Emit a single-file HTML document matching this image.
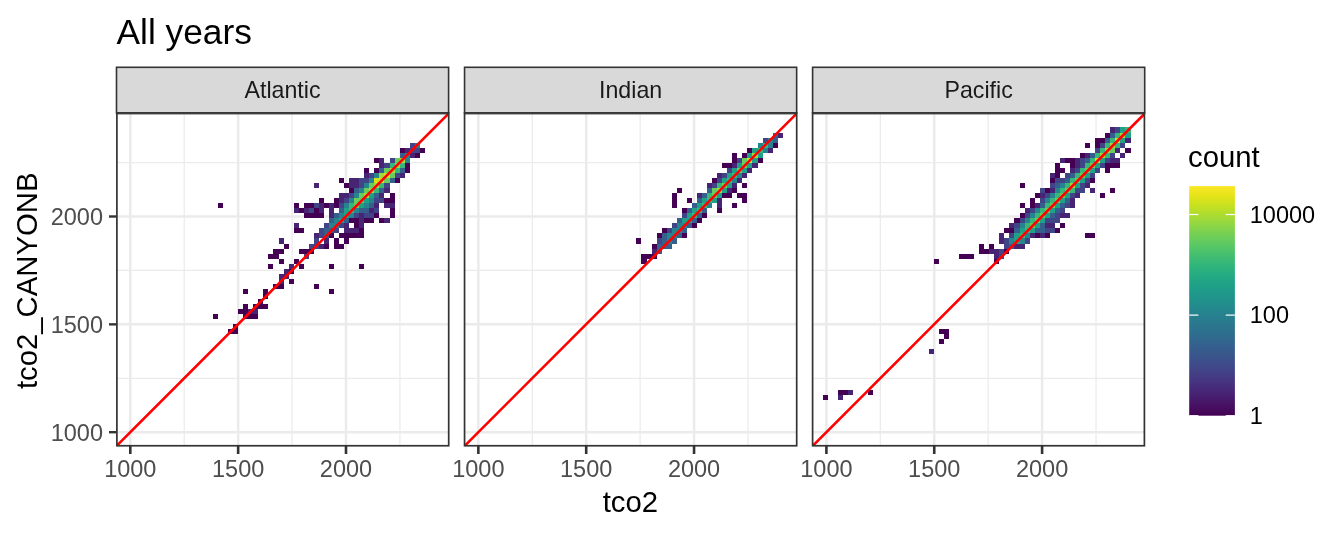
<!DOCTYPE html><html><head><meta charset="utf-8"><title>All years</title><style>html,body{margin:0;padding:0;background:#fff;}svg{display:block;}text{font-family:'Liberation Sans', Arial, sans-serif;}</style></head><body>
<svg width="1344" height="537" viewBox="0 0 1344 537">
<rect width="1344" height="537" fill="#fff"/>
<text x="116.5" y="43.7" font-size="35.3" fill="#000">All years</text>
<rect x="116.5" y="67.3" width="332.1" height="45.7" fill="#d9d9d9" stroke="#333" stroke-width="1.6"/>
<text x="282.55" y="97.8" font-size="23.2" fill="#1a1a1a" text-anchor="middle">Atlantic</text>
<rect x="116.5" y="113.0" width="332.1" height="332.4" fill="#fff"/>
<clipPath id="c0"><rect x="116.5" y="113.0" width="332.1" height="332.4"/></clipPath>
<g clip-path="url(#c0)">
<line x1="184.23" y1="113.0" x2="184.23" y2="445.4" stroke="#ebebeb" stroke-width="1.25"/>
<line x1="116.5" y1="378.27" x2="448.6" y2="378.27" stroke="#ebebeb" stroke-width="1.25"/>
<line x1="292.08" y1="113.0" x2="292.08" y2="445.4" stroke="#ebebeb" stroke-width="1.25"/>
<line x1="116.5" y1="270.42" x2="448.6" y2="270.42" stroke="#ebebeb" stroke-width="1.25"/>
<line x1="399.93" y1="113.0" x2="399.93" y2="445.4" stroke="#ebebeb" stroke-width="1.25"/>
<line x1="116.5" y1="162.57" x2="448.6" y2="162.57" stroke="#ebebeb" stroke-width="1.25"/>
<line x1="130.30" y1="113.0" x2="130.30" y2="445.4" stroke="#ebebeb" stroke-width="2.5"/>
<line x1="116.5" y1="432.20" x2="448.6" y2="432.20" stroke="#ebebeb" stroke-width="2.5"/>
<line x1="238.15" y1="113.0" x2="238.15" y2="445.4" stroke="#ebebeb" stroke-width="2.5"/>
<line x1="116.5" y1="324.35" x2="448.6" y2="324.35" stroke="#ebebeb" stroke-width="2.5"/>
<line x1="346.00" y1="113.0" x2="346.00" y2="445.4" stroke="#ebebeb" stroke-width="2.5"/>
<line x1="116.5" y1="216.50" x2="448.6" y2="216.50" stroke="#ebebeb" stroke-width="2.5"/>
<g shape-rendering="crispEdges"><rect x="213" y="314" width="5" height="5" fill="#440154"/>
<rect x="218" y="203" width="5" height="5" fill="#440154"/>
<rect x="228" y="329" width="5" height="5" fill="#440154"/>
<rect x="233" y="329" width="5" height="5" fill="#440154"/>
<rect x="233" y="324" width="5" height="5" fill="#440154"/>
<rect x="238" y="309" width="5" height="5" fill="#440154"/>
<rect x="243" y="314" width="5" height="5" fill="#440154"/>
<rect x="243" y="309" width="5" height="5" fill="#440154"/>
<rect x="243" y="304" width="5" height="5" fill="#440154"/>
<rect x="243" y="289" width="5" height="5" fill="#440154"/>
<rect x="248" y="314" width="5" height="5" fill="#440154"/>
<rect x="248" y="309" width="5" height="5" fill="#482475"/>
<rect x="253" y="314" width="5" height="5" fill="#440154"/>
<rect x="253" y="309" width="5" height="5" fill="#482475"/>
<rect x="253" y="304" width="5" height="5" fill="#440154"/>
<rect x="258" y="304" width="5" height="5" fill="#440154"/>
<rect x="258" y="299" width="5" height="5" fill="#440154"/>
<rect x="263" y="304" width="5" height="5" fill="#440154"/>
<rect x="263" y="294" width="5" height="5" fill="#440154"/>
<rect x="263" y="289" width="5" height="5" fill="#440154"/>
<rect x="268" y="264" width="5" height="5" fill="#440154"/>
<rect x="268" y="254" width="5" height="5" fill="#440154"/>
<rect x="273" y="284" width="6" height="5" fill="#440154"/>
<rect x="273" y="254" width="6" height="5" fill="#440154"/>
<rect x="273" y="249" width="6" height="5" fill="#440154"/>
<rect x="279" y="284" width="5" height="5" fill="#440154"/>
<rect x="279" y="279" width="5" height="5" fill="#482475"/>
<rect x="279" y="274" width="5" height="5" fill="#482475"/>
<rect x="279" y="259" width="5" height="5" fill="#440154"/>
<rect x="279" y="249" width="5" height="5" fill="#440154"/>
<rect x="279" y="238" width="5" height="6" fill="#482475"/>
<rect x="284" y="274" width="5" height="5" fill="#482475"/>
<rect x="284" y="269" width="5" height="5" fill="#482475"/>
<rect x="284" y="244" width="5" height="5" fill="#440154"/>
<rect x="289" y="279" width="5" height="5" fill="#440154"/>
<rect x="289" y="269" width="5" height="5" fill="#440154"/>
<rect x="289" y="264" width="5" height="5" fill="#482475"/>
<rect x="294" y="259" width="5" height="5" fill="#440154"/>
<rect x="294" y="228" width="5" height="5" fill="#440154"/>
<rect x="294" y="223" width="5" height="5" fill="#482475"/>
<rect x="294" y="208" width="5" height="5" fill="#482475"/>
<rect x="294" y="203" width="5" height="5" fill="#440154"/>
<rect x="299" y="264" width="5" height="5" fill="#440154"/>
<rect x="299" y="249" width="5" height="5" fill="#440154"/>
<rect x="299" y="228" width="5" height="5" fill="#440154"/>
<rect x="299" y="208" width="5" height="5" fill="#440154"/>
<rect x="304" y="254" width="5" height="5" fill="#414487"/>
<rect x="304" y="249" width="5" height="5" fill="#440154"/>
<rect x="304" y="213" width="5" height="5" fill="#440154"/>
<rect x="304" y="208" width="5" height="5" fill="#482475"/>
<rect x="304" y="203" width="5" height="5" fill="#440154"/>
<rect x="309" y="249" width="5" height="5" fill="#440154"/>
<rect x="309" y="244" width="5" height="5" fill="#414487"/>
<rect x="309" y="213" width="5" height="5" fill="#440154"/>
<rect x="309" y="208" width="5" height="5" fill="#414487"/>
<rect x="309" y="203" width="5" height="5" fill="#440154"/>
<rect x="314" y="284" width="5" height="5" fill="#440154"/>
<rect x="314" y="244" width="5" height="5" fill="#414487"/>
<rect x="314" y="238" width="5" height="6" fill="#414487"/>
<rect x="314" y="233" width="5" height="5" fill="#482475"/>
<rect x="314" y="213" width="5" height="5" fill="#440154"/>
<rect x="314" y="208" width="5" height="5" fill="#440154"/>
<rect x="314" y="203" width="5" height="5" fill="#414487"/>
<rect x="314" y="183" width="5" height="5" fill="#482475"/>
<rect x="319" y="244" width="5" height="5" fill="#482475"/>
<rect x="319" y="233" width="5" height="5" fill="#414487"/>
<rect x="319" y="228" width="5" height="5" fill="#414487"/>
<rect x="319" y="213" width="5" height="5" fill="#440154"/>
<rect x="319" y="208" width="5" height="5" fill="#482475"/>
<rect x="319" y="203" width="5" height="5" fill="#482475"/>
<rect x="319" y="198" width="5" height="5" fill="#440154"/>
<rect x="324" y="244" width="5" height="5" fill="#440154"/>
<rect x="324" y="238" width="5" height="6" fill="#482475"/>
<rect x="324" y="233" width="5" height="5" fill="#355f8d"/>
<rect x="324" y="228" width="5" height="5" fill="#355f8d"/>
<rect x="324" y="223" width="5" height="5" fill="#414487"/>
<rect x="324" y="203" width="5" height="5" fill="#440154"/>
<rect x="329" y="289" width="5" height="5" fill="#440154"/>
<rect x="329" y="264" width="5" height="5" fill="#440154"/>
<rect x="329" y="233" width="5" height="5" fill="#440154"/>
<rect x="329" y="228" width="5" height="5" fill="#355f8d"/>
<rect x="329" y="223" width="5" height="5" fill="#25848e"/>
<rect x="329" y="218" width="5" height="5" fill="#355f8d"/>
<rect x="329" y="213" width="5" height="5" fill="#482475"/>
<rect x="329" y="208" width="5" height="5" fill="#482475"/>
<rect x="329" y="203" width="5" height="5" fill="#482475"/>
<rect x="334" y="244" width="5" height="5" fill="#440154"/>
<rect x="334" y="238" width="5" height="6" fill="#440154"/>
<rect x="334" y="228" width="5" height="5" fill="#414487"/>
<rect x="334" y="223" width="5" height="5" fill="#25848e"/>
<rect x="334" y="218" width="5" height="5" fill="#25848e"/>
<rect x="334" y="213" width="5" height="5" fill="#355f8d"/>
<rect x="334" y="203" width="5" height="5" fill="#440154"/>
<rect x="334" y="198" width="5" height="5" fill="#440154"/>
<rect x="339" y="244" width="5" height="5" fill="#440154"/>
<rect x="339" y="233" width="5" height="5" fill="#440154"/>
<rect x="339" y="223" width="5" height="5" fill="#414487"/>
<rect x="339" y="218" width="5" height="5" fill="#1fa188"/>
<rect x="339" y="213" width="5" height="5" fill="#25848e"/>
<rect x="339" y="208" width="5" height="5" fill="#355f8d"/>
<rect x="339" y="203" width="5" height="5" fill="#414487"/>
<rect x="339" y="198" width="5" height="5" fill="#482475"/>
<rect x="339" y="193" width="5" height="5" fill="#482475"/>
<rect x="339" y="178" width="5" height="5" fill="#440154"/>
<rect x="344" y="238" width="5" height="6" fill="#440154"/>
<rect x="344" y="233" width="5" height="5" fill="#440154"/>
<rect x="344" y="228" width="5" height="5" fill="#482475"/>
<rect x="344" y="223" width="5" height="5" fill="#482475"/>
<rect x="344" y="218" width="5" height="5" fill="#355f8d"/>
<rect x="344" y="213" width="5" height="5" fill="#1fa188"/>
<rect x="344" y="208" width="5" height="5" fill="#1fa188"/>
<rect x="344" y="203" width="5" height="5" fill="#25848e"/>
<rect x="344" y="198" width="5" height="5" fill="#414487"/>
<rect x="344" y="193" width="5" height="5" fill="#482475"/>
<rect x="344" y="183" width="5" height="5" fill="#440154"/>
<rect x="349" y="233" width="5" height="5" fill="#440154"/>
<rect x="349" y="228" width="5" height="5" fill="#482475"/>
<rect x="349" y="218" width="5" height="5" fill="#440154"/>
<rect x="349" y="213" width="5" height="5" fill="#25848e"/>
<rect x="349" y="208" width="5" height="5" fill="#37b878"/>
<rect x="349" y="203" width="5" height="5" fill="#37b878"/>
<rect x="349" y="198" width="5" height="5" fill="#25848e"/>
<rect x="349" y="193" width="5" height="5" fill="#414487"/>
<rect x="349" y="188" width="5" height="5" fill="#440154"/>
<rect x="349" y="183" width="5" height="5" fill="#482475"/>
<rect x="349" y="178" width="5" height="5" fill="#482475"/>
<rect x="354" y="233" width="5" height="5" fill="#440154"/>
<rect x="354" y="228" width="5" height="5" fill="#482475"/>
<rect x="354" y="223" width="5" height="5" fill="#440154"/>
<rect x="354" y="218" width="5" height="5" fill="#440154"/>
<rect x="354" y="213" width="5" height="5" fill="#414487"/>
<rect x="354" y="208" width="5" height="5" fill="#25848e"/>
<rect x="354" y="203" width="5" height="5" fill="#69cd5b"/>
<rect x="354" y="198" width="5" height="5" fill="#69cd5b"/>
<rect x="354" y="193" width="5" height="5" fill="#25848e"/>
<rect x="354" y="188" width="5" height="5" fill="#355f8d"/>
<rect x="354" y="183" width="5" height="5" fill="#482475"/>
<rect x="354" y="178" width="5" height="5" fill="#482475"/>
<rect x="359" y="264" width="5" height="5" fill="#440154"/>
<rect x="359" y="233" width="5" height="5" fill="#440154"/>
<rect x="359" y="228" width="5" height="5" fill="#440154"/>
<rect x="359" y="223" width="5" height="5" fill="#482475"/>
<rect x="359" y="218" width="5" height="5" fill="#482475"/>
<rect x="359" y="213" width="5" height="5" fill="#482475"/>
<rect x="359" y="208" width="5" height="5" fill="#355f8d"/>
<rect x="359" y="203" width="5" height="5" fill="#1fa188"/>
<rect x="359" y="198" width="5" height="5" fill="#69cd5b"/>
<rect x="359" y="193" width="5" height="5" fill="#69cd5b"/>
<rect x="359" y="188" width="5" height="5" fill="#25848e"/>
<rect x="359" y="183" width="5" height="5" fill="#414487"/>
<rect x="359" y="178" width="5" height="5" fill="#414487"/>
<rect x="364" y="218" width="5" height="5" fill="#440154"/>
<rect x="364" y="213" width="5" height="5" fill="#414487"/>
<rect x="364" y="208" width="5" height="5" fill="#355f8d"/>
<rect x="364" y="203" width="5" height="5" fill="#25848e"/>
<rect x="364" y="198" width="5" height="5" fill="#1fa188"/>
<rect x="364" y="193" width="5" height="5" fill="#a2da37"/>
<rect x="364" y="188" width="5" height="5" fill="#69cd5b"/>
<rect x="364" y="183" width="5" height="5" fill="#25848e"/>
<rect x="364" y="178" width="5" height="5" fill="#414487"/>
<rect x="364" y="173" width="5" height="5" fill="#482475"/>
<rect x="364" y="168" width="5" height="5" fill="#440154"/>
<rect x="369" y="218" width="5" height="5" fill="#440154"/>
<rect x="369" y="213" width="5" height="5" fill="#414487"/>
<rect x="369" y="208" width="5" height="5" fill="#482475"/>
<rect x="369" y="203" width="5" height="5" fill="#355f8d"/>
<rect x="369" y="198" width="5" height="5" fill="#25848e"/>
<rect x="369" y="193" width="5" height="5" fill="#1fa188"/>
<rect x="369" y="188" width="5" height="5" fill="#a2da37"/>
<rect x="369" y="183" width="5" height="5" fill="#69cd5b"/>
<rect x="369" y="178" width="5" height="5" fill="#25848e"/>
<rect x="369" y="173" width="5" height="5" fill="#414487"/>
<rect x="374" y="213" width="5" height="5" fill="#440154"/>
<rect x="374" y="208" width="5" height="5" fill="#414487"/>
<rect x="374" y="203" width="5" height="5" fill="#482475"/>
<rect x="374" y="198" width="5" height="5" fill="#414487"/>
<rect x="374" y="193" width="5" height="5" fill="#355f8d"/>
<rect x="374" y="188" width="5" height="5" fill="#37b878"/>
<rect x="374" y="183" width="5" height="5" fill="#a2da37"/>
<rect x="374" y="178" width="5" height="5" fill="#d2e21b"/>
<rect x="374" y="173" width="5" height="5" fill="#25848e"/>
<rect x="374" y="168" width="5" height="5" fill="#440154"/>
<rect x="374" y="158" width="5" height="5" fill="#440154"/>
<rect x="379" y="218" width="5" height="5" fill="#440154"/>
<rect x="379" y="198" width="5" height="5" fill="#414487"/>
<rect x="379" y="193" width="5" height="5" fill="#482475"/>
<rect x="379" y="188" width="5" height="5" fill="#355f8d"/>
<rect x="379" y="183" width="5" height="5" fill="#37b878"/>
<rect x="379" y="178" width="5" height="5" fill="#d2e21b"/>
<rect x="379" y="173" width="5" height="5" fill="#a2da37"/>
<rect x="379" y="168" width="5" height="5" fill="#355f8d"/>
<rect x="379" y="163" width="5" height="5" fill="#482475"/>
<rect x="379" y="158" width="5" height="5" fill="#482475"/>
<rect x="384" y="218" width="6" height="5" fill="#482475"/>
<rect x="384" y="203" width="6" height="5" fill="#482475"/>
<rect x="384" y="198" width="6" height="5" fill="#440154"/>
<rect x="384" y="188" width="6" height="5" fill="#482475"/>
<rect x="384" y="183" width="6" height="5" fill="#414487"/>
<rect x="384" y="178" width="6" height="5" fill="#69cd5b"/>
<rect x="384" y="173" width="6" height="5" fill="#d2e21b"/>
<rect x="384" y="168" width="6" height="5" fill="#69cd5b"/>
<rect x="384" y="163" width="6" height="5" fill="#414487"/>
<rect x="390" y="213" width="5" height="5" fill="#440154"/>
<rect x="390" y="208" width="5" height="5" fill="#440154"/>
<rect x="390" y="203" width="5" height="5" fill="#482475"/>
<rect x="390" y="198" width="5" height="5" fill="#440154"/>
<rect x="390" y="193" width="5" height="5" fill="#440154"/>
<rect x="390" y="178" width="5" height="5" fill="#355f8d"/>
<rect x="390" y="173" width="5" height="5" fill="#69cd5b"/>
<rect x="390" y="168" width="5" height="5" fill="#a2da37"/>
<rect x="390" y="163" width="5" height="5" fill="#37b878"/>
<rect x="390" y="158" width="5" height="5" fill="#414487"/>
<rect x="395" y="178" width="5" height="5" fill="#440154"/>
<rect x="395" y="173" width="5" height="5" fill="#414487"/>
<rect x="395" y="168" width="5" height="5" fill="#37b878"/>
<rect x="395" y="163" width="5" height="5" fill="#a2da37"/>
<rect x="395" y="158" width="5" height="5" fill="#69cd5b"/>
<rect x="400" y="173" width="5" height="5" fill="#482475"/>
<rect x="400" y="168" width="5" height="5" fill="#355f8d"/>
<rect x="400" y="163" width="5" height="5" fill="#37b878"/>
<rect x="400" y="158" width="5" height="5" fill="#a2da37"/>
<rect x="400" y="153" width="5" height="5" fill="#355f8d"/>
<rect x="400" y="148" width="5" height="5" fill="#440154"/>
<rect x="405" y="168" width="5" height="5" fill="#440154"/>
<rect x="405" y="163" width="5" height="5" fill="#440154"/>
<rect x="405" y="158" width="5" height="5" fill="#25848e"/>
<rect x="405" y="153" width="5" height="5" fill="#25848e"/>
<rect x="405" y="148" width="5" height="5" fill="#482475"/>
<rect x="410" y="153" width="5" height="5" fill="#482475"/>
<rect x="410" y="148" width="5" height="5" fill="#414487"/>
<rect x="410" y="143" width="5" height="5" fill="#414487"/>
<rect x="415" y="153" width="5" height="5" fill="#440154"/>
<rect x="415" y="148" width="5" height="5" fill="#414487"/>
<rect x="415" y="143" width="5" height="5" fill="#25848e"/>
<rect x="420" y="148" width="5" height="5" fill="#440154"/></g>
<line x1="117.10" y1="445.4" x2="449.20" y2="113.0" stroke="#ff0000" stroke-width="2.6"/>
</g>
<rect x="116.9" y="113.0" width="331.80" height="332.75" fill="none" stroke="#333" stroke-width="1.7"/>
<line x1="116.9" y1="113.9" x2="448.7" y2="113.9" stroke="#333" stroke-width="1.0"/>
<line x1="130.30" y1="445.75" x2="130.30" y2="454" stroke="#333" stroke-width="2.6"/>
<text x="130.30" y="476.8" font-size="23.5" fill="#4d4d4d" text-anchor="middle">1000</text>
<line x1="238.15" y1="445.75" x2="238.15" y2="454" stroke="#333" stroke-width="2.6"/>
<text x="238.15" y="476.8" font-size="23.5" fill="#4d4d4d" text-anchor="middle">1500</text>
<line x1="346.00" y1="445.75" x2="346.00" y2="454" stroke="#333" stroke-width="2.6"/>
<text x="346.00" y="476.8" font-size="23.5" fill="#4d4d4d" text-anchor="middle">2000</text>
<rect x="464.55" y="67.3" width="332.1" height="45.7" fill="#d9d9d9" stroke="#333" stroke-width="1.6"/>
<text x="630.60" y="97.8" font-size="23.2" fill="#1a1a1a" text-anchor="middle">Indian</text>
<rect x="464.55" y="113.0" width="332.1" height="332.4" fill="#fff"/>
<clipPath id="c1"><rect x="464.55" y="113.0" width="332.1" height="332.4"/></clipPath>
<g clip-path="url(#c1)">
<line x1="532.27" y1="113.0" x2="532.27" y2="445.4" stroke="#ebebeb" stroke-width="1.25"/>
<line x1="464.55" y1="378.27" x2="796.6500000000001" y2="378.27" stroke="#ebebeb" stroke-width="1.25"/>
<line x1="640.12" y1="113.0" x2="640.12" y2="445.4" stroke="#ebebeb" stroke-width="1.25"/>
<line x1="464.55" y1="270.42" x2="796.6500000000001" y2="270.42" stroke="#ebebeb" stroke-width="1.25"/>
<line x1="747.98" y1="113.0" x2="747.98" y2="445.4" stroke="#ebebeb" stroke-width="1.25"/>
<line x1="464.55" y1="162.57" x2="796.6500000000001" y2="162.57" stroke="#ebebeb" stroke-width="1.25"/>
<line x1="478.35" y1="113.0" x2="478.35" y2="445.4" stroke="#ebebeb" stroke-width="2.5"/>
<line x1="464.55" y1="432.20" x2="796.6500000000001" y2="432.20" stroke="#ebebeb" stroke-width="2.5"/>
<line x1="586.20" y1="113.0" x2="586.20" y2="445.4" stroke="#ebebeb" stroke-width="2.5"/>
<line x1="464.55" y1="324.35" x2="796.6500000000001" y2="324.35" stroke="#ebebeb" stroke-width="2.5"/>
<line x1="694.05" y1="113.0" x2="694.05" y2="445.4" stroke="#ebebeb" stroke-width="2.5"/>
<line x1="464.55" y1="216.50" x2="796.6500000000001" y2="216.50" stroke="#ebebeb" stroke-width="2.5"/>
<g shape-rendering="crispEdges"><rect x="636" y="238" width="5" height="6" fill="#440154"/>
<rect x="641" y="259" width="6" height="5" fill="#440154"/>
<rect x="641" y="254" width="6" height="5" fill="#440154"/>
<rect x="647" y="254" width="5" height="5" fill="#440154"/>
<rect x="652" y="254" width="5" height="5" fill="#440154"/>
<rect x="652" y="249" width="5" height="5" fill="#482475"/>
<rect x="652" y="244" width="5" height="5" fill="#440154"/>
<rect x="657" y="249" width="5" height="5" fill="#355f8d"/>
<rect x="657" y="244" width="5" height="5" fill="#355f8d"/>
<rect x="657" y="238" width="5" height="6" fill="#414487"/>
<rect x="657" y="233" width="5" height="5" fill="#440154"/>
<rect x="662" y="244" width="5" height="5" fill="#355f8d"/>
<rect x="662" y="238" width="5" height="6" fill="#355f8d"/>
<rect x="662" y="233" width="5" height="5" fill="#355f8d"/>
<rect x="662" y="228" width="5" height="5" fill="#440154"/>
<rect x="667" y="244" width="5" height="5" fill="#355f8d"/>
<rect x="667" y="238" width="5" height="6" fill="#25848e"/>
<rect x="667" y="233" width="5" height="5" fill="#25848e"/>
<rect x="667" y="228" width="5" height="5" fill="#414487"/>
<rect x="672" y="238" width="5" height="6" fill="#355f8d"/>
<rect x="672" y="233" width="5" height="5" fill="#25848e"/>
<rect x="672" y="228" width="5" height="5" fill="#25848e"/>
<rect x="672" y="223" width="5" height="5" fill="#414487"/>
<rect x="672" y="203" width="5" height="5" fill="#440154"/>
<rect x="672" y="198" width="5" height="5" fill="#440154"/>
<rect x="672" y="193" width="5" height="5" fill="#440154"/>
<rect x="677" y="233" width="5" height="5" fill="#355f8d"/>
<rect x="677" y="228" width="5" height="5" fill="#25848e"/>
<rect x="677" y="223" width="5" height="5" fill="#25848e"/>
<rect x="677" y="218" width="5" height="5" fill="#355f8d"/>
<rect x="677" y="188" width="5" height="5" fill="#440154"/>
<rect x="682" y="233" width="5" height="5" fill="#440154"/>
<rect x="682" y="228" width="5" height="5" fill="#355f8d"/>
<rect x="682" y="223" width="5" height="5" fill="#25848e"/>
<rect x="682" y="218" width="5" height="5" fill="#1fa188"/>
<rect x="682" y="213" width="5" height="5" fill="#414487"/>
<rect x="682" y="208" width="5" height="5" fill="#440154"/>
<rect x="687" y="223" width="5" height="5" fill="#355f8d"/>
<rect x="687" y="218" width="5" height="5" fill="#1fa188"/>
<rect x="687" y="213" width="5" height="5" fill="#1fa188"/>
<rect x="687" y="208" width="5" height="5" fill="#355f8d"/>
<rect x="687" y="198" width="5" height="5" fill="#440154"/>
<rect x="692" y="223" width="5" height="5" fill="#440154"/>
<rect x="692" y="218" width="5" height="5" fill="#355f8d"/>
<rect x="692" y="213" width="5" height="5" fill="#37b878"/>
<rect x="692" y="208" width="5" height="5" fill="#1fa188"/>
<rect x="692" y="203" width="5" height="5" fill="#355f8d"/>
<rect x="697" y="218" width="5" height="5" fill="#440154"/>
<rect x="697" y="213" width="5" height="5" fill="#355f8d"/>
<rect x="697" y="208" width="5" height="5" fill="#37b878"/>
<rect x="697" y="203" width="5" height="5" fill="#1fa188"/>
<rect x="697" y="198" width="5" height="5" fill="#355f8d"/>
<rect x="697" y="193" width="5" height="5" fill="#482475"/>
<rect x="702" y="213" width="5" height="5" fill="#440154"/>
<rect x="702" y="208" width="5" height="5" fill="#355f8d"/>
<rect x="702" y="203" width="5" height="5" fill="#37b878"/>
<rect x="702" y="198" width="5" height="5" fill="#1fa188"/>
<rect x="702" y="193" width="5" height="5" fill="#355f8d"/>
<rect x="707" y="203" width="5" height="5" fill="#25848e"/>
<rect x="707" y="198" width="5" height="5" fill="#37b878"/>
<rect x="707" y="193" width="5" height="5" fill="#37b878"/>
<rect x="707" y="188" width="5" height="5" fill="#355f8d"/>
<rect x="707" y="183" width="5" height="5" fill="#482475"/>
<rect x="712" y="198" width="5" height="5" fill="#1fa188"/>
<rect x="712" y="193" width="5" height="5" fill="#69cd5b"/>
<rect x="712" y="188" width="5" height="5" fill="#69cd5b"/>
<rect x="712" y="183" width="5" height="5" fill="#414487"/>
<rect x="712" y="178" width="5" height="5" fill="#440154"/>
<rect x="717" y="208" width="5" height="5" fill="#440154"/>
<rect x="717" y="203" width="5" height="5" fill="#482475"/>
<rect x="717" y="198" width="5" height="5" fill="#482475"/>
<rect x="717" y="193" width="5" height="5" fill="#1fa188"/>
<rect x="717" y="188" width="5" height="5" fill="#a2da37"/>
<rect x="717" y="183" width="5" height="5" fill="#37b878"/>
<rect x="717" y="178" width="5" height="5" fill="#414487"/>
<rect x="717" y="173" width="5" height="5" fill="#482475"/>
<rect x="722" y="193" width="5" height="5" fill="#440154"/>
<rect x="722" y="188" width="5" height="5" fill="#1fa188"/>
<rect x="722" y="183" width="5" height="5" fill="#69cd5b"/>
<rect x="722" y="178" width="5" height="5" fill="#1fa188"/>
<rect x="722" y="173" width="5" height="5" fill="#414487"/>
<rect x="722" y="163" width="5" height="5" fill="#440154"/>
<rect x="727" y="193" width="5" height="5" fill="#440154"/>
<rect x="727" y="188" width="5" height="5" fill="#482475"/>
<rect x="727" y="183" width="5" height="5" fill="#1fa188"/>
<rect x="727" y="178" width="5" height="5" fill="#37b878"/>
<rect x="727" y="173" width="5" height="5" fill="#1fa188"/>
<rect x="727" y="168" width="5" height="5" fill="#414487"/>
<rect x="727" y="163" width="5" height="5" fill="#440154"/>
<rect x="732" y="203" width="5" height="5" fill="#440154"/>
<rect x="732" y="188" width="5" height="5" fill="#440154"/>
<rect x="732" y="183" width="5" height="5" fill="#482475"/>
<rect x="732" y="178" width="5" height="5" fill="#25848e"/>
<rect x="732" y="173" width="5" height="5" fill="#37b878"/>
<rect x="732" y="168" width="5" height="5" fill="#1fa188"/>
<rect x="732" y="163" width="5" height="5" fill="#482475"/>
<rect x="732" y="158" width="5" height="5" fill="#440154"/>
<rect x="732" y="153" width="5" height="5" fill="#440154"/>
<rect x="737" y="193" width="5" height="5" fill="#440154"/>
<rect x="737" y="178" width="5" height="5" fill="#482475"/>
<rect x="737" y="173" width="5" height="5" fill="#25848e"/>
<rect x="737" y="168" width="5" height="5" fill="#69cd5b"/>
<rect x="737" y="163" width="5" height="5" fill="#1fa188"/>
<rect x="737" y="158" width="5" height="5" fill="#414487"/>
<rect x="742" y="198" width="5" height="5" fill="#440154"/>
<rect x="742" y="193" width="5" height="5" fill="#440154"/>
<rect x="742" y="183" width="5" height="5" fill="#440154"/>
<rect x="742" y="173" width="5" height="5" fill="#482475"/>
<rect x="742" y="168" width="5" height="5" fill="#1fa188"/>
<rect x="742" y="163" width="5" height="5" fill="#69cd5b"/>
<rect x="742" y="158" width="5" height="5" fill="#69cd5b"/>
<rect x="742" y="153" width="5" height="5" fill="#440154"/>
<rect x="747" y="168" width="5" height="5" fill="#482475"/>
<rect x="747" y="163" width="5" height="5" fill="#1fa188"/>
<rect x="747" y="158" width="5" height="5" fill="#d2e21b"/>
<rect x="747" y="153" width="5" height="5" fill="#1fa188"/>
<rect x="747" y="148" width="5" height="5" fill="#440154"/>
<rect x="752" y="163" width="6" height="5" fill="#482475"/>
<rect x="752" y="158" width="6" height="5" fill="#1fa188"/>
<rect x="752" y="153" width="6" height="5" fill="#a2da37"/>
<rect x="752" y="148" width="6" height="5" fill="#1fa188"/>
<rect x="758" y="158" width="5" height="5" fill="#440154"/>
<rect x="758" y="153" width="5" height="5" fill="#1fa188"/>
<rect x="758" y="148" width="5" height="5" fill="#37b878"/>
<rect x="758" y="143" width="5" height="5" fill="#25848e"/>
<rect x="763" y="148" width="5" height="5" fill="#25848e"/>
<rect x="763" y="143" width="5" height="5" fill="#37b878"/>
<rect x="763" y="138" width="5" height="5" fill="#414487"/>
<rect x="768" y="148" width="5" height="5" fill="#482475"/>
<rect x="768" y="143" width="5" height="5" fill="#25848e"/>
<rect x="768" y="138" width="5" height="5" fill="#25848e"/>
<rect x="773" y="143" width="5" height="5" fill="#440154"/>
<rect x="773" y="138" width="5" height="5" fill="#355f8d"/>
<rect x="773" y="133" width="5" height="5" fill="#355f8d"/>
<rect x="778" y="133" width="5" height="5" fill="#482475"/></g>
<line x1="465.15" y1="445.4" x2="797.25" y2="113.0" stroke="#ff0000" stroke-width="2.6"/>
</g>
<rect x="464.55" y="113.0" width="332.15" height="332.75" fill="none" stroke="#333" stroke-width="1.7"/>
<line x1="464.55" y1="113.9" x2="796.7" y2="113.9" stroke="#333" stroke-width="1.0"/>
<line x1="478.35" y1="445.75" x2="478.35" y2="454" stroke="#333" stroke-width="2.6"/>
<text x="478.35" y="476.8" font-size="23.5" fill="#4d4d4d" text-anchor="middle">1000</text>
<line x1="586.20" y1="445.75" x2="586.20" y2="454" stroke="#333" stroke-width="2.6"/>
<text x="586.20" y="476.8" font-size="23.5" fill="#4d4d4d" text-anchor="middle">1500</text>
<line x1="694.05" y1="445.75" x2="694.05" y2="454" stroke="#333" stroke-width="2.6"/>
<text x="694.05" y="476.8" font-size="23.5" fill="#4d4d4d" text-anchor="middle">2000</text>
<rect x="812.6" y="67.3" width="332.1" height="45.7" fill="#d9d9d9" stroke="#333" stroke-width="1.6"/>
<text x="978.65" y="97.8" font-size="23.2" fill="#1a1a1a" text-anchor="middle">Pacific</text>
<rect x="812.6" y="113.0" width="332.1" height="332.4" fill="#fff"/>
<clipPath id="c2"><rect x="812.6" y="113.0" width="332.1" height="332.4"/></clipPath>
<g clip-path="url(#c2)">
<line x1="880.32" y1="113.0" x2="880.32" y2="445.4" stroke="#ebebeb" stroke-width="1.25"/>
<line x1="812.6" y1="378.27" x2="1144.7" y2="378.27" stroke="#ebebeb" stroke-width="1.25"/>
<line x1="988.17" y1="113.0" x2="988.17" y2="445.4" stroke="#ebebeb" stroke-width="1.25"/>
<line x1="812.6" y1="270.42" x2="1144.7" y2="270.42" stroke="#ebebeb" stroke-width="1.25"/>
<line x1="1096.03" y1="113.0" x2="1096.03" y2="445.4" stroke="#ebebeb" stroke-width="1.25"/>
<line x1="812.6" y1="162.57" x2="1144.7" y2="162.57" stroke="#ebebeb" stroke-width="1.25"/>
<line x1="826.40" y1="113.0" x2="826.40" y2="445.4" stroke="#ebebeb" stroke-width="2.5"/>
<line x1="812.6" y1="432.20" x2="1144.7" y2="432.20" stroke="#ebebeb" stroke-width="2.5"/>
<line x1="934.25" y1="113.0" x2="934.25" y2="445.4" stroke="#ebebeb" stroke-width="2.5"/>
<line x1="812.6" y1="324.35" x2="1144.7" y2="324.35" stroke="#ebebeb" stroke-width="2.5"/>
<line x1="1042.10" y1="113.0" x2="1042.10" y2="445.4" stroke="#ebebeb" stroke-width="2.5"/>
<line x1="812.6" y1="216.50" x2="1144.7" y2="216.50" stroke="#ebebeb" stroke-width="2.5"/>
<g shape-rendering="crispEdges"><rect x="823" y="395" width="5" height="5" fill="#440154"/>
<rect x="838" y="395" width="5" height="5" fill="#482475"/>
<rect x="838" y="390" width="5" height="5" fill="#440154"/>
<rect x="843" y="390" width="5" height="5" fill="#440154"/>
<rect x="848" y="390" width="5" height="5" fill="#482475"/>
<rect x="868" y="390" width="5" height="5" fill="#440154"/>
<rect x="929" y="349" width="5" height="5" fill="#482475"/>
<rect x="934" y="259" width="5" height="5" fill="#440154"/>
<rect x="939" y="339" width="5" height="5" fill="#440154"/>
<rect x="939" y="329" width="5" height="5" fill="#440154"/>
<rect x="944" y="334" width="5" height="5" fill="#440154"/>
<rect x="944" y="329" width="5" height="5" fill="#440154"/>
<rect x="959" y="254" width="5" height="5" fill="#440154"/>
<rect x="964" y="254" width="5" height="5" fill="#440154"/>
<rect x="969" y="254" width="5" height="5" fill="#440154"/>
<rect x="979" y="249" width="5" height="5" fill="#440154"/>
<rect x="979" y="244" width="5" height="5" fill="#440154"/>
<rect x="984" y="249" width="5" height="5" fill="#440154"/>
<rect x="989" y="249" width="5" height="5" fill="#482475"/>
<rect x="989" y="244" width="5" height="5" fill="#440154"/>
<rect x="994" y="259" width="5" height="5" fill="#440154"/>
<rect x="994" y="254" width="5" height="5" fill="#482475"/>
<rect x="994" y="249" width="5" height="5" fill="#482475"/>
<rect x="999" y="254" width="5" height="5" fill="#414487"/>
<rect x="999" y="249" width="5" height="5" fill="#414487"/>
<rect x="999" y="238" width="5" height="6" fill="#482475"/>
<rect x="999" y="233" width="5" height="5" fill="#482475"/>
<rect x="1004" y="249" width="5" height="5" fill="#440154"/>
<rect x="1004" y="244" width="5" height="5" fill="#414487"/>
<rect x="1004" y="238" width="5" height="6" fill="#414487"/>
<rect x="1004" y="228" width="5" height="5" fill="#440154"/>
<rect x="1009" y="244" width="5" height="5" fill="#355f8d"/>
<rect x="1009" y="238" width="5" height="6" fill="#25848e"/>
<rect x="1009" y="233" width="5" height="5" fill="#414487"/>
<rect x="1009" y="228" width="5" height="5" fill="#440154"/>
<rect x="1009" y="223" width="5" height="5" fill="#482475"/>
<rect x="1014" y="244" width="6" height="5" fill="#482475"/>
<rect x="1014" y="238" width="6" height="6" fill="#1fa188"/>
<rect x="1014" y="233" width="6" height="5" fill="#1fa188"/>
<rect x="1014" y="228" width="6" height="5" fill="#355f8d"/>
<rect x="1014" y="223" width="6" height="5" fill="#414487"/>
<rect x="1014" y="218" width="6" height="5" fill="#440154"/>
<rect x="1020" y="244" width="5" height="5" fill="#482475"/>
<rect x="1020" y="238" width="5" height="6" fill="#25848e"/>
<rect x="1020" y="233" width="5" height="5" fill="#37b878"/>
<rect x="1020" y="228" width="5" height="5" fill="#1fa188"/>
<rect x="1020" y="223" width="5" height="5" fill="#25848e"/>
<rect x="1020" y="218" width="5" height="5" fill="#414487"/>
<rect x="1020" y="213" width="5" height="5" fill="#440154"/>
<rect x="1020" y="203" width="5" height="5" fill="#440154"/>
<rect x="1020" y="183" width="5" height="5" fill="#440154"/>
<rect x="1025" y="238" width="5" height="6" fill="#414487"/>
<rect x="1025" y="233" width="5" height="5" fill="#25848e"/>
<rect x="1025" y="228" width="5" height="5" fill="#37b878"/>
<rect x="1025" y="223" width="5" height="5" fill="#37b878"/>
<rect x="1025" y="218" width="5" height="5" fill="#25848e"/>
<rect x="1025" y="213" width="5" height="5" fill="#414487"/>
<rect x="1025" y="208" width="5" height="5" fill="#482475"/>
<rect x="1030" y="233" width="5" height="5" fill="#482475"/>
<rect x="1030" y="228" width="5" height="5" fill="#1fa188"/>
<rect x="1030" y="223" width="5" height="5" fill="#69cd5b"/>
<rect x="1030" y="218" width="5" height="5" fill="#37b878"/>
<rect x="1030" y="213" width="5" height="5" fill="#25848e"/>
<rect x="1030" y="208" width="5" height="5" fill="#414487"/>
<rect x="1030" y="203" width="5" height="5" fill="#440154"/>
<rect x="1030" y="198" width="5" height="5" fill="#440154"/>
<rect x="1035" y="233" width="5" height="5" fill="#440154"/>
<rect x="1035" y="228" width="5" height="5" fill="#355f8d"/>
<rect x="1035" y="223" width="5" height="5" fill="#1fa188"/>
<rect x="1035" y="218" width="5" height="5" fill="#69cd5b"/>
<rect x="1035" y="213" width="5" height="5" fill="#37b878"/>
<rect x="1035" y="208" width="5" height="5" fill="#25848e"/>
<rect x="1035" y="203" width="5" height="5" fill="#482475"/>
<rect x="1035" y="193" width="5" height="5" fill="#440154"/>
<rect x="1040" y="233" width="5" height="5" fill="#482475"/>
<rect x="1040" y="228" width="5" height="5" fill="#355f8d"/>
<rect x="1040" y="223" width="5" height="5" fill="#355f8d"/>
<rect x="1040" y="218" width="5" height="5" fill="#1fa188"/>
<rect x="1040" y="213" width="5" height="5" fill="#69cd5b"/>
<rect x="1040" y="208" width="5" height="5" fill="#37b878"/>
<rect x="1040" y="203" width="5" height="5" fill="#355f8d"/>
<rect x="1040" y="198" width="5" height="5" fill="#414487"/>
<rect x="1040" y="193" width="5" height="5" fill="#482475"/>
<rect x="1040" y="188" width="5" height="5" fill="#414487"/>
<rect x="1045" y="233" width="5" height="5" fill="#440154"/>
<rect x="1045" y="228" width="5" height="5" fill="#414487"/>
<rect x="1045" y="223" width="5" height="5" fill="#482475"/>
<rect x="1045" y="218" width="5" height="5" fill="#414487"/>
<rect x="1045" y="213" width="5" height="5" fill="#1fa188"/>
<rect x="1045" y="208" width="5" height="5" fill="#69cd5b"/>
<rect x="1045" y="203" width="5" height="5" fill="#37b878"/>
<rect x="1045" y="198" width="5" height="5" fill="#25848e"/>
<rect x="1045" y="193" width="5" height="5" fill="#414487"/>
<rect x="1045" y="188" width="5" height="5" fill="#440154"/>
<rect x="1050" y="228" width="5" height="5" fill="#414487"/>
<rect x="1050" y="223" width="5" height="5" fill="#482475"/>
<rect x="1050" y="218" width="5" height="5" fill="#414487"/>
<rect x="1050" y="213" width="5" height="5" fill="#355f8d"/>
<rect x="1050" y="208" width="5" height="5" fill="#1fa188"/>
<rect x="1050" y="203" width="5" height="5" fill="#69cd5b"/>
<rect x="1050" y="198" width="5" height="5" fill="#37b878"/>
<rect x="1050" y="193" width="5" height="5" fill="#25848e"/>
<rect x="1050" y="188" width="5" height="5" fill="#482475"/>
<rect x="1050" y="183" width="5" height="5" fill="#414487"/>
<rect x="1050" y="178" width="5" height="5" fill="#440154"/>
<rect x="1050" y="173" width="5" height="5" fill="#482475"/>
<rect x="1055" y="228" width="5" height="5" fill="#440154"/>
<rect x="1055" y="218" width="5" height="5" fill="#414487"/>
<rect x="1055" y="213" width="5" height="5" fill="#414487"/>
<rect x="1055" y="208" width="5" height="5" fill="#355f8d"/>
<rect x="1055" y="203" width="5" height="5" fill="#1fa188"/>
<rect x="1055" y="198" width="5" height="5" fill="#69cd5b"/>
<rect x="1055" y="193" width="5" height="5" fill="#37b878"/>
<rect x="1055" y="188" width="5" height="5" fill="#25848e"/>
<rect x="1055" y="183" width="5" height="5" fill="#355f8d"/>
<rect x="1055" y="178" width="5" height="5" fill="#414487"/>
<rect x="1055" y="173" width="5" height="5" fill="#440154"/>
<rect x="1055" y="168" width="5" height="5" fill="#440154"/>
<rect x="1055" y="163" width="5" height="5" fill="#440154"/>
<rect x="1060" y="223" width="5" height="5" fill="#440154"/>
<rect x="1060" y="213" width="5" height="5" fill="#482475"/>
<rect x="1060" y="208" width="5" height="5" fill="#414487"/>
<rect x="1060" y="203" width="5" height="5" fill="#355f8d"/>
<rect x="1060" y="198" width="5" height="5" fill="#1fa188"/>
<rect x="1060" y="193" width="5" height="5" fill="#69cd5b"/>
<rect x="1060" y="188" width="5" height="5" fill="#37b878"/>
<rect x="1060" y="183" width="5" height="5" fill="#25848e"/>
<rect x="1060" y="178" width="5" height="5" fill="#414487"/>
<rect x="1060" y="168" width="5" height="5" fill="#440154"/>
<rect x="1060" y="158" width="5" height="5" fill="#482475"/>
<rect x="1065" y="213" width="5" height="5" fill="#482475"/>
<rect x="1065" y="203" width="5" height="5" fill="#414487"/>
<rect x="1065" y="198" width="5" height="5" fill="#355f8d"/>
<rect x="1065" y="193" width="5" height="5" fill="#1fa188"/>
<rect x="1065" y="188" width="5" height="5" fill="#69cd5b"/>
<rect x="1065" y="183" width="5" height="5" fill="#37b878"/>
<rect x="1065" y="178" width="5" height="5" fill="#355f8d"/>
<rect x="1065" y="173" width="5" height="5" fill="#414487"/>
<rect x="1065" y="158" width="5" height="5" fill="#440154"/>
<rect x="1070" y="203" width="5" height="5" fill="#482475"/>
<rect x="1070" y="198" width="5" height="5" fill="#482475"/>
<rect x="1070" y="193" width="5" height="5" fill="#414487"/>
<rect x="1070" y="188" width="5" height="5" fill="#37b878"/>
<rect x="1070" y="183" width="5" height="5" fill="#a2da37"/>
<rect x="1070" y="178" width="5" height="5" fill="#37b878"/>
<rect x="1070" y="173" width="5" height="5" fill="#355f8d"/>
<rect x="1070" y="168" width="5" height="5" fill="#482475"/>
<rect x="1070" y="163" width="5" height="5" fill="#440154"/>
<rect x="1070" y="158" width="5" height="5" fill="#440154"/>
<rect x="1075" y="193" width="5" height="5" fill="#482475"/>
<rect x="1075" y="188" width="5" height="5" fill="#414487"/>
<rect x="1075" y="183" width="5" height="5" fill="#1fa188"/>
<rect x="1075" y="178" width="5" height="5" fill="#69cd5b"/>
<rect x="1075" y="173" width="5" height="5" fill="#37b878"/>
<rect x="1075" y="168" width="5" height="5" fill="#414487"/>
<rect x="1075" y="163" width="5" height="5" fill="#482475"/>
<rect x="1075" y="158" width="5" height="5" fill="#482475"/>
<rect x="1080" y="188" width="5" height="5" fill="#414487"/>
<rect x="1080" y="183" width="5" height="5" fill="#414487"/>
<rect x="1080" y="178" width="5" height="5" fill="#1fa188"/>
<rect x="1080" y="173" width="5" height="5" fill="#69cd5b"/>
<rect x="1080" y="168" width="5" height="5" fill="#37b878"/>
<rect x="1080" y="163" width="5" height="5" fill="#414487"/>
<rect x="1080" y="158" width="5" height="5" fill="#414487"/>
<rect x="1080" y="153" width="5" height="5" fill="#440154"/>
<rect x="1085" y="233" width="5" height="5" fill="#440154"/>
<rect x="1085" y="183" width="5" height="5" fill="#482475"/>
<rect x="1085" y="178" width="5" height="5" fill="#414487"/>
<rect x="1085" y="173" width="5" height="5" fill="#1fa188"/>
<rect x="1085" y="168" width="5" height="5" fill="#69cd5b"/>
<rect x="1085" y="163" width="5" height="5" fill="#37b878"/>
<rect x="1085" y="158" width="5" height="5" fill="#355f8d"/>
<rect x="1085" y="153" width="5" height="5" fill="#482475"/>
<rect x="1085" y="143" width="5" height="5" fill="#440154"/>
<rect x="1090" y="233" width="5" height="5" fill="#440154"/>
<rect x="1090" y="188" width="5" height="5" fill="#482475"/>
<rect x="1090" y="178" width="5" height="5" fill="#440154"/>
<rect x="1090" y="173" width="5" height="5" fill="#414487"/>
<rect x="1090" y="168" width="5" height="5" fill="#1fa188"/>
<rect x="1090" y="163" width="5" height="5" fill="#69cd5b"/>
<rect x="1090" y="158" width="5" height="5" fill="#37b878"/>
<rect x="1090" y="153" width="5" height="5" fill="#355f8d"/>
<rect x="1095" y="168" width="5" height="5" fill="#414487"/>
<rect x="1095" y="163" width="5" height="5" fill="#1fa188"/>
<rect x="1095" y="158" width="5" height="5" fill="#d2e21b"/>
<rect x="1095" y="153" width="5" height="5" fill="#37b878"/>
<rect x="1095" y="148" width="5" height="5" fill="#414487"/>
<rect x="1095" y="143" width="5" height="5" fill="#440154"/>
<rect x="1095" y="138" width="5" height="5" fill="#440154"/>
<rect x="1100" y="193" width="5" height="5" fill="#440154"/>
<rect x="1100" y="163" width="5" height="5" fill="#414487"/>
<rect x="1100" y="158" width="5" height="5" fill="#1fa188"/>
<rect x="1100" y="153" width="5" height="5" fill="#a2da37"/>
<rect x="1100" y="148" width="5" height="5" fill="#37b878"/>
<rect x="1100" y="143" width="5" height="5" fill="#414487"/>
<rect x="1100" y="138" width="5" height="5" fill="#440154"/>
<rect x="1105" y="168" width="5" height="5" fill="#440154"/>
<rect x="1105" y="163" width="5" height="5" fill="#440154"/>
<rect x="1105" y="158" width="5" height="5" fill="#414487"/>
<rect x="1105" y="153" width="5" height="5" fill="#37b878"/>
<rect x="1105" y="148" width="5" height="5" fill="#a2da37"/>
<rect x="1105" y="143" width="5" height="5" fill="#37b878"/>
<rect x="1105" y="138" width="5" height="5" fill="#355f8d"/>
<rect x="1105" y="133" width="5" height="5" fill="#440154"/>
<rect x="1110" y="188" width="5" height="5" fill="#440154"/>
<rect x="1110" y="163" width="5" height="5" fill="#440154"/>
<rect x="1110" y="158" width="5" height="5" fill="#482475"/>
<rect x="1110" y="153" width="5" height="5" fill="#414487"/>
<rect x="1110" y="148" width="5" height="5" fill="#69cd5b"/>
<rect x="1110" y="143" width="5" height="5" fill="#a2da37"/>
<rect x="1110" y="138" width="5" height="5" fill="#37b878"/>
<rect x="1110" y="133" width="5" height="5" fill="#355f8d"/>
<rect x="1110" y="127" width="5" height="6" fill="#482475"/>
<rect x="1115" y="163" width="5" height="5" fill="#440154"/>
<rect x="1115" y="158" width="5" height="5" fill="#482475"/>
<rect x="1115" y="148" width="5" height="5" fill="#482475"/>
<rect x="1115" y="143" width="5" height="5" fill="#37b878"/>
<rect x="1115" y="138" width="5" height="5" fill="#d2e21b"/>
<rect x="1115" y="133" width="5" height="5" fill="#37b878"/>
<rect x="1115" y="127" width="5" height="6" fill="#414487"/>
<rect x="1120" y="153" width="5" height="5" fill="#482475"/>
<rect x="1120" y="143" width="5" height="5" fill="#414487"/>
<rect x="1120" y="138" width="5" height="5" fill="#1fa188"/>
<rect x="1120" y="133" width="5" height="5" fill="#a2da37"/>
<rect x="1120" y="127" width="5" height="6" fill="#1fa188"/>
<rect x="1125" y="148" width="6" height="5" fill="#440154"/>
<rect x="1125" y="138" width="6" height="5" fill="#482475"/>
<rect x="1125" y="133" width="6" height="5" fill="#1fa188"/>
<rect x="1125" y="127" width="6" height="6" fill="#37b878"/></g>
<line x1="813.20" y1="445.4" x2="1145.30" y2="113.0" stroke="#ff0000" stroke-width="2.6"/>
</g>
<rect x="812.6" y="113.0" width="331.80" height="332.75" fill="none" stroke="#333" stroke-width="1.7"/>
<line x1="812.6" y1="113.9" x2="1144.4" y2="113.9" stroke="#333" stroke-width="1.0"/>
<line x1="826.40" y1="445.75" x2="826.40" y2="454" stroke="#333" stroke-width="2.6"/>
<text x="826.40" y="476.8" font-size="23.5" fill="#4d4d4d" text-anchor="middle">1000</text>
<line x1="934.25" y1="445.75" x2="934.25" y2="454" stroke="#333" stroke-width="2.6"/>
<text x="934.25" y="476.8" font-size="23.5" fill="#4d4d4d" text-anchor="middle">1500</text>
<line x1="1042.10" y1="445.75" x2="1042.10" y2="454" stroke="#333" stroke-width="2.6"/>
<text x="1042.10" y="476.8" font-size="23.5" fill="#4d4d4d" text-anchor="middle">2000</text>
<line x1="109" y1="432.20" x2="116.5" y2="432.20" stroke="#333" stroke-width="2.4"/>
<text x="103" y="440.50" font-size="23.5" fill="#4d4d4d" text-anchor="end">1000</text>
<line x1="109" y1="324.35" x2="116.5" y2="324.35" stroke="#333" stroke-width="2.4"/>
<text x="103" y="332.65" font-size="23.5" fill="#4d4d4d" text-anchor="end">1500</text>
<line x1="109" y1="216.50" x2="116.5" y2="216.50" stroke="#333" stroke-width="2.4"/>
<text x="103" y="224.80" font-size="23.5" fill="#4d4d4d" text-anchor="end">2000</text>
<text x="630.4" y="512" font-size="29.3" fill="#000" text-anchor="middle">tco2</text>
<text transform="translate(36.8,280.8) rotate(-90)" x="0" y="0" font-size="29.3" fill="#000" text-anchor="middle">tco2_CANYONB</text>
<defs><linearGradient id="vg" x1="0" y1="1" x2="0" y2="0">
<stop offset="0.000" stop-color="#440154"/>
<stop offset="0.050" stop-color="#471365"/>
<stop offset="0.100" stop-color="#482475"/>
<stop offset="0.150" stop-color="#463480"/>
<stop offset="0.200" stop-color="#414487"/>
<stop offset="0.250" stop-color="#3b528b"/>
<stop offset="0.300" stop-color="#355f8d"/>
<stop offset="0.350" stop-color="#2f6c8e"/>
<stop offset="0.400" stop-color="#2a788e"/>
<stop offset="0.450" stop-color="#25848e"/>
<stop offset="0.500" stop-color="#21918c"/>
<stop offset="0.550" stop-color="#1e9c89"/>
<stop offset="0.600" stop-color="#22a884"/>
<stop offset="0.650" stop-color="#2fb47c"/>
<stop offset="0.700" stop-color="#44bf70"/>
<stop offset="0.750" stop-color="#5ec962"/>
<stop offset="0.800" stop-color="#7ad151"/>
<stop offset="0.850" stop-color="#9bd93c"/>
<stop offset="0.900" stop-color="#bddf26"/>
<stop offset="0.950" stop-color="#dfe318"/>
<stop offset="1.000" stop-color="#fde725"/>
</linearGradient></defs>
<rect x="1189.2" y="186.1" width="45.70" height="229.60" fill="url(#vg)"/>
<text x="1188" y="167.1" font-size="29.3" fill="#000">count</text>
<line x1="1189.2" y1="214.5" x2="1198.34" y2="214.5" stroke="#fff" stroke-width="1.2"/>
<line x1="1225.76" y1="214.5" x2="1234.9" y2="214.5" stroke="#fff" stroke-width="1.2"/>
<text x="1249.8" y="222.70" font-size="23.5" fill="#000">10000</text>
<line x1="1189.2" y1="315.1" x2="1198.34" y2="315.1" stroke="#fff" stroke-width="1.2"/>
<line x1="1225.76" y1="315.1" x2="1234.9" y2="315.1" stroke="#fff" stroke-width="1.2"/>
<text x="1249.8" y="323.30" font-size="23.5" fill="#000">100</text>
<line x1="1189.2" y1="415.7" x2="1198.34" y2="415.7" stroke="#fff" stroke-width="1.2"/>
<line x1="1225.76" y1="415.7" x2="1234.9" y2="415.7" stroke="#fff" stroke-width="1.2"/>
<text x="1249.8" y="423.90" font-size="23.5" fill="#000">1</text>
</svg></body></html>
